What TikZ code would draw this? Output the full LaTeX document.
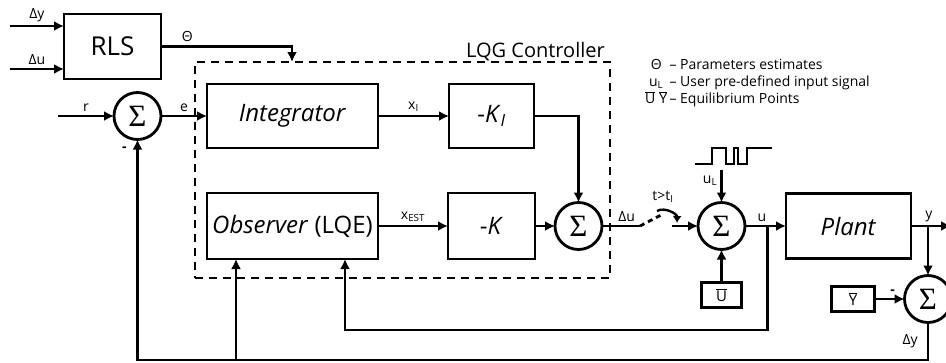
\documentclass[tikz,border=0pt]{standalone}
\usepackage[no-math]{fontspec}
\setmainfont{Open Sans}
\newfontfamily\grfont{Open Sans}
\newfontfamily\sigmafont{Liberation Serif}
\usepackage{tikz}
\usetikzlibrary{positioning, arrows.meta, calc}

\newcommand{\gD}{{\grfont Δ}}
\newcommand{\gTh}{{\grfont Θ}}
\newcommand{\sumsign}{{\sigmafont Σ}}

\begin{document}
\begin{tikzpicture}[
      x=1pt, y=-1pt,
      box/.style={
        draw,
        line width=2.8pt,
        outer sep=0pt,
        minimum height=64pt,
        align=center,
        font=\fontsize{24}{28}\selectfont
      },
      sumnode/.style={
        draw,
        circle,
        line width=2.8pt,
        outer sep=0pt,
        inner sep=0pt,
        minimum size=47pt,
        font=\fontsize{31}{31}\selectfont
      },
      smallbox/.style={
        draw,
        line width=2.2pt,
        outer sep=0pt,
        minimum height=25pt,
        font=\fontsize{15}{15}\selectfont
      },
      ctrlbox/.style={
        draw,
        line width=2.8pt,
        dash pattern=on 8pt off 6pt,
        outer sep=0pt
      },
      arrow/.style={
        -{Latex[length=10pt, width=10pt]},
        line width=2.8pt
      },
      wire/.style={
        line width=2.8pt
      },
      lbl/.style={
        font=\fontsize{14}{14}\selectfont,
        inner sep=3pt
      }
    ]

    \useasboundingbox (0,0) rectangle (946,362);

    \node[box, minimum width=97pt, minimum height=65pt, font=\fontsize{26}{28}\selectfont] (rls) at (112.5,46.5) {RLS};

    \node[sumnode] (sum1) at (137.5,116) {\sumsign};
    \node[box, right=46pt of sum1, minimum width=171pt] (integ) {\textit{Integrator}};
    \node[box, right=71pt of integ, minimum width=85pt] (ki) {-\textit{K}\textsubscript{\textit{I}}};
    \node[box, below=45pt of integ, minimum width=171pt, minimum height=66pt] (obs) {\textit{Observer} (LQE)};
    \node[box, below=45pt of ki, minimum width=87pt, minimum height=66pt] (k) {-\textit{K}};
    \node[sumnode, right=20pt of k] (sum2) {\sumsign};
    \node[sumnode, right=96pt of sum2] (sum3) {\sumsign};
    \node[box, right=41pt of sum3, minimum width=125pt, minimum height=65pt] (plant) {\textit{Plant}};
    \node[smallbox, below=33pt of sum3, minimum width=40pt] (ubar) {$\overline{\mbox{U}}$};
    \node[sumnode] (sum4) at (928,299) {\sumsign};
    \node[smallbox, left=30pt of sum4, minimum width=43pt] (ybar) {$\overline{\mbox{Y}}$};

    \node[ctrlbox, minimum width=415pt, minimum height=216pt] (lqg) at (402.5,170) {};
    \node[anchor=base east, inner sep=0pt, font=\fontsize{20}{20}\selectfont] (lqglabel) at ($(lqg.north east)+(-5,-5)$) {LQG Controller};

    \node[anchor=north west, inner sep=0pt, font=\fontsize{14}{16.5}\selectfont] (legend) at (645,58) {%
      \begin{tabular}{@{}c@{\,}l@{}}
        \gTh & -- Parameters estimates\\
        u\textsubscript{L} & -- User pre-defined input signal\\
        $\overline{\mbox{U}}\;\overline{\mbox{Y}}$ & -- Equilibrium Points
      \end{tabular}};

    \coordinate (dyin) at (10,26);
    \coordinate (duin) at (10,69);
    \coordinate (rin) at (58,116);
    \coordinate (thetain) at ($(lqg.north west)+(97,0)$);
    \coordinate (swa) at ($(sum2.east)+(38,0)$);
    \coordinate (swb) at ($(swa)+(23,-12)$);
    \coordinate (swc) at ($(sum3.west)+(-26,0)$);
    \coordinate (swarc1) at ($(swb)+(-6,-3)$);
    \coordinate (swarc2) at ($(swb)+(14,9)$);
    \coordinate (ulin) at ($(sum3.north)+(0,-33)$);
    \coordinate (ubr) at ($(sum3.east)!0.54!(plant.west)$);
    \coordinate (yout) at ($(plant.east)+(40,0)$);
    \coordinate (bottom) at (0,360);
    \coordinate (fbrow) at (0,330);
    \coordinate (obsin1) at ($(obs.south west)+(29,0)$);
    \coordinate (obsin2) at ($(obs.south west)+(138,0)$);

    \draw[arrow] (dyin) -- node[lbl, above] {\gD y} (dyin -| rls.west);
    \draw[arrow] (duin) -- node[lbl, above] {\gD u} (duin -| rls.west);
    \draw[arrow] (rls) -| node[lbl, above, pos=0.1] {\gTh} (thetain);

    \draw[arrow] (rin) -- node[lbl, above] {r} (sum1);
    \draw[arrow] (sum1) -- node[lbl, above] {e} (integ);
    \draw[arrow] (integ) -- node[lbl, above] {x\textsubscript{I}} (ki);
    \draw[arrow] (ki) -| (sum2);
    \draw[arrow] (obs) -- node[lbl, above] {x\textsubscript{EST}} (k);
    \draw[arrow] (k) -- (sum2);

    \draw[wire] (sum2) -- node[lbl, above, pos=0.65] {\gD u} (swa);
    \draw[wire, dash pattern=on 5pt off 4pt] (swa) -- (swb);
    \draw[line width=2.4pt, -{Latex[length=7pt, width=9pt]}] (swarc1) to[bend left=60] (swarc2);
    \node[lbl] (swlabel) at (663,197) {t>t\textsubscript{I}};
    \draw[arrow] (swc) -- (sum3);

    \draw[line width=1.3pt] (695,164) -- (712,164) -- (712,148) -- (726,148) -- (726,164) -- (734,164)
      -- (734,148) -- (738,148) -- (738,164) -- (747,164) -- (747,148) -- (772,148);
    \draw[arrow] (ulin) -- node[lbl, left, pos=0.35] {u\textsubscript{L}} (sum3);
    \draw[arrow] (ubar) -- (sum3);

    \draw[arrow] (sum3) -- node[lbl, above, pos=0.41] {u} (plant);
    \draw[arrow] (ubr) |- (fbrow -| obsin2) -- (obsin2);
    \draw[arrow] (plant) -- node[lbl, above, pos=0.45] {y} (yout);
    \draw[arrow] (sum4 |- plant) -- (sum4);
    \draw[arrow] (ybar) -- node[lbl, above, pos=0.6] {\textbf{-}} (sum4);
    \draw[arrow] (sum4) -- node[lbl, left=6pt] {\gD y} (sum4 |- bottom) -| (sum1);
    \draw[arrow] (obsin1 |- bottom) -- (obsin1);
    \node[lbl] (sum1minus) at ($(sum1.south)+(-13,10)$) {\textbf{-}};

    \end{tikzpicture}
\end{document}
